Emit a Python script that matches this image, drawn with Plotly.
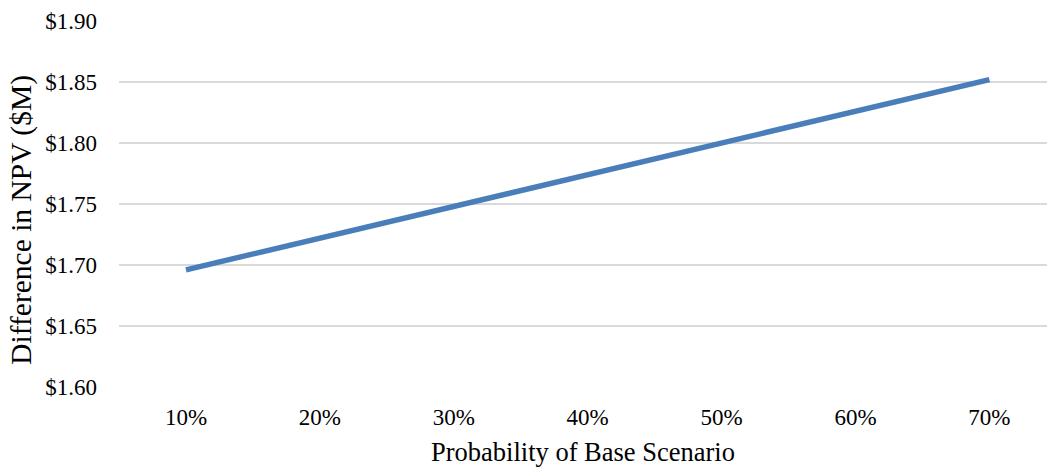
import plotly.graph_objects as go

# Probability of the base scenario and resulting NPV difference ($M)
probabilities = ["10%", "20%", "30%", "40%", "50%", "60%", "70%"]
npv_difference = [1.696, 1.722, 1.748, 1.774, 1.800, 1.826, 1.852]
y_ticks = [1.60, 1.65, 1.70, 1.75, 1.80, 1.85, 1.90]
y_tick_labels = ["$1.60", "$1.65", "$1.70", "$1.75", "$1.80", "$1.85", "$1.90"]

FONT = "Liberation Serif, Times New Roman, serif"

fig = go.Figure(
    go.Scatter(
        x=list(range(len(probabilities))),
        y=npv_difference,
        mode="lines",
        line=dict(color="#4a7ebb", width=5.5),
        hoverinfo="skip",
    )
)

fig.update_layout(
    width=1047,
    height=468,
    margin=dict(l=119, r=0, t=21, b=81),
    paper_bgcolor="white",
    plot_bgcolor="white",
    showlegend=False,
    font=dict(family=FONT, color="#000000", size=23),
    annotations=[
        dict(
            text="Probability of Base Scenario",
            xref="paper", yref="paper",
            x=0.5, y=-0.1776,
            xanchor="center", yanchor="middle",
            showarrow=False,
            font=dict(family=FONT, size=26.5, color="#000000"),
        ),
        dict(
            text="Difference in NPV ($M)",
            xref="paper", yref="paper",
            x=-0.1045, y=0.457,
            xanchor="center", yanchor="middle",
            textangle=-90,
            showarrow=False,
            font=dict(family=FONT, size=29.5, color="#000000"),
        ),
    ],
)

fig.update_xaxes(
    tickmode="array",
    tickvals=list(range(len(probabilities))),
    ticktext=probabilities,
    range=[-0.5, 6.43],
    showgrid=False,
    zeroline=False,
    showline=False,
    ticks="",
    ticklabelstandoff=14,
    tickfont=dict(family=FONT, size=23),
)

fig.update_yaxes(
    tickmode="array",
    tickvals=y_ticks,
    ticktext=y_tick_labels,
    range=[1.60, 1.90],
    showgrid=True,
    gridcolor="#d9d9d9",
    gridwidth=1.5,
    zeroline=False,
    showline=False,
    ticks="",
    ticklabelstandoff=21,
    tickfont=dict(family=FONT, size=23),
)

fig.write_html("out.html")
